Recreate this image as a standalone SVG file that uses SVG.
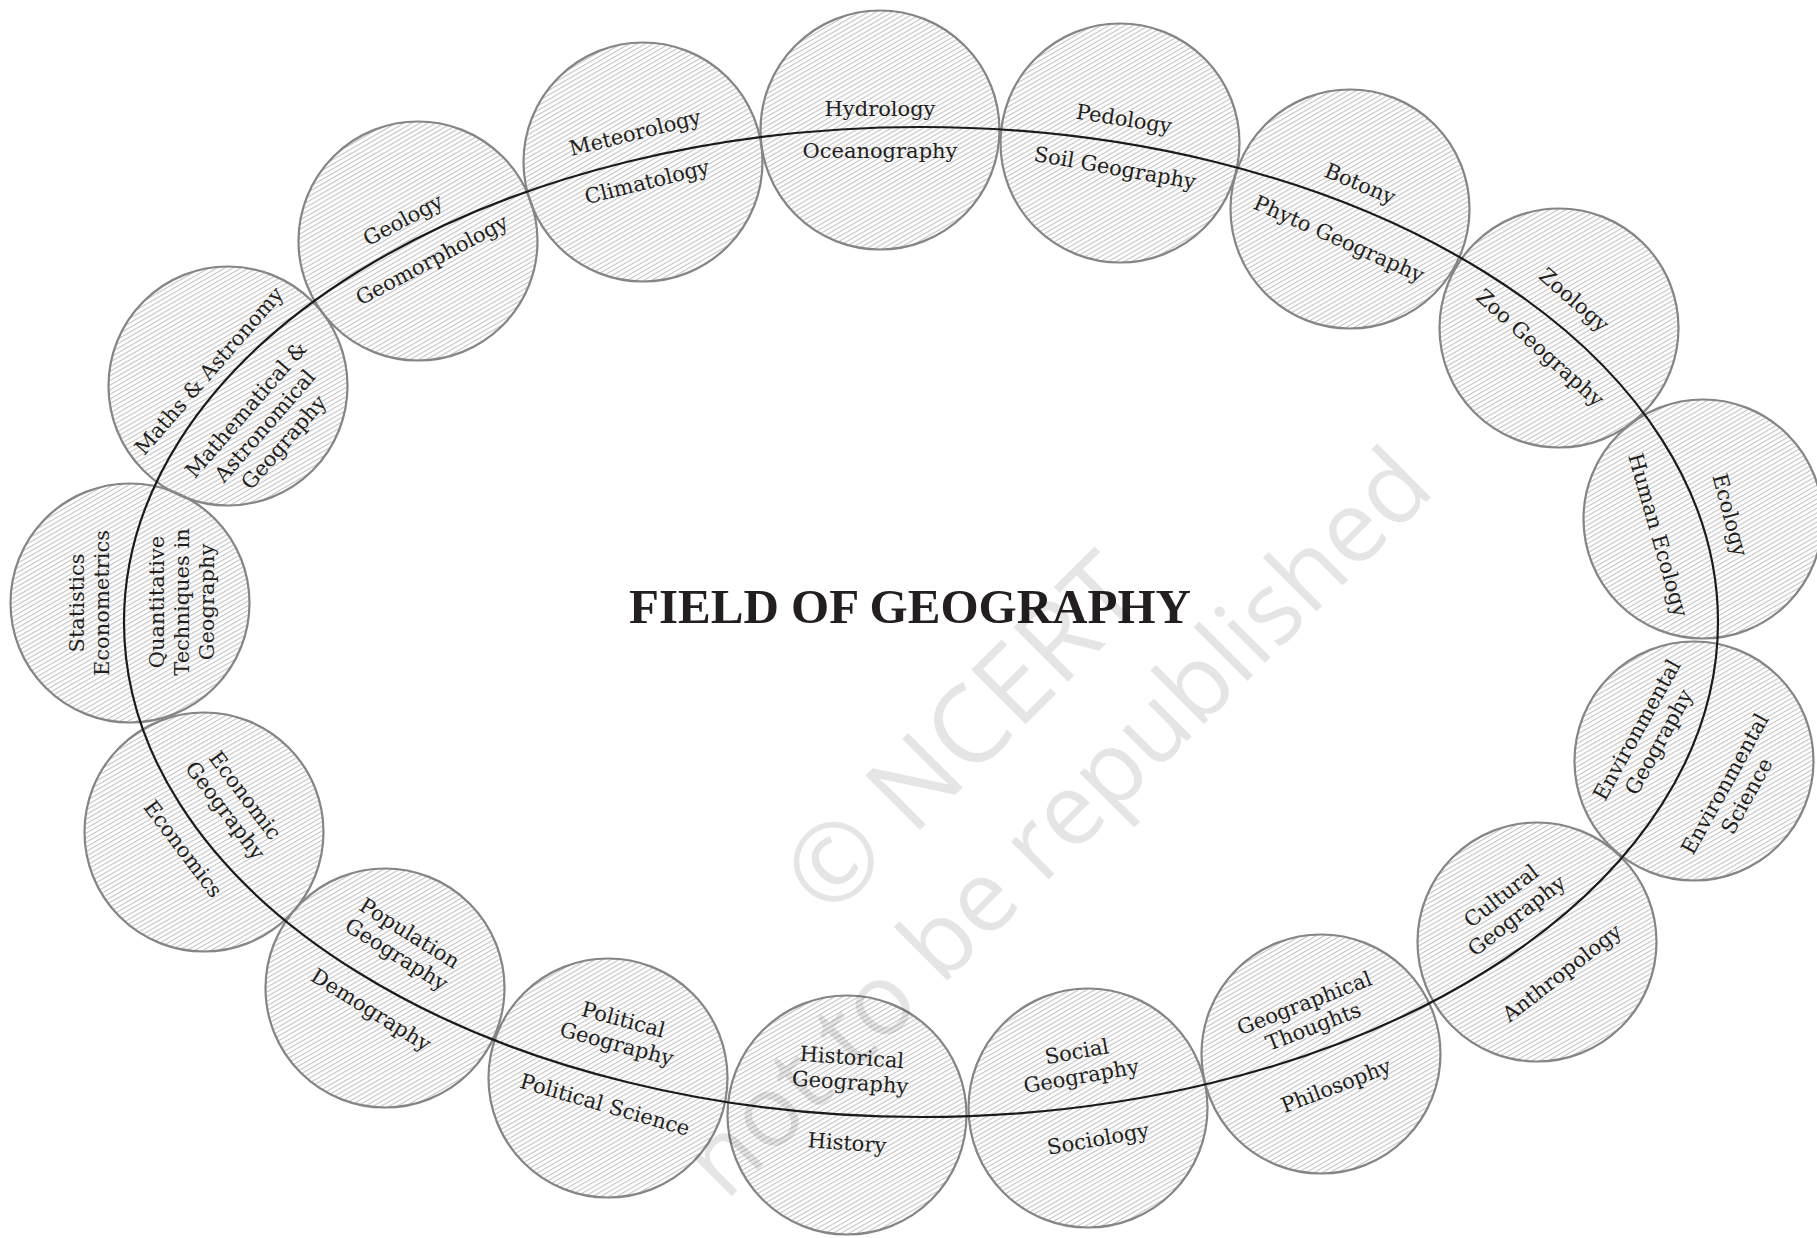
<svg xmlns="http://www.w3.org/2000/svg" width="1817" height="1238" viewBox="0 0 1817 1238">
<defs>
<pattern id="hatch" width="4" height="4" patternUnits="userSpaceOnUse" patternTransform="rotate(-30)">
<rect x="0" y="0" width="4" height="1.1" fill="#c4c4c4"/>
</pattern>
</defs>
<style>
.node circle { fill: url(#hatch); stroke: #858585; stroke-width: 2.2; }
.lbl { font-family: "DejaVu Serif", "Liberation Serif", serif; font-size: 21px; fill: #231f20; text-anchor: middle; }
.title { font-family: "Liberation Serif", serif; font-weight: bold; font-size: 49px; fill: #231f20; }
.wm { font-family: "Open Sans", "Noto Sans", sans-serif; font-size: 100px; fill: #000000; fill-opacity: 0.1; text-anchor: middle; }
.conn { fill: none; stroke: #1b1b1b; stroke-width: 2.2; }
</style>
<rect width="1817" height="1238" fill="#ffffff"/>

<g id="node-hydrology" class="node">
<circle cx="880" cy="130" r="119.5"/>
<text class="lbl" transform="translate(880 109)"><tspan x="0" y="7">Hydrology</tspan></text>
<text class="lbl" transform="translate(880 151)"><tspan x="0" y="7">Oceanography</tspan></text>
</g>
<g id="node-pedology" class="node">
<circle cx="1120" cy="143" r="119.5"/>
<text class="lbl" transform="translate(1124 119) rotate(9)"><tspan x="0" y="7">Pedology</tspan></text>
<text class="lbl" transform="translate(1115 168) rotate(10)"><tspan x="0" y="7">Soil Geography</tspan></text>
</g>
<g id="node-botony" class="node">
<circle cx="1350" cy="209" r="119.5"/>
<text class="lbl" transform="translate(1360 184) rotate(23)"><tspan x="0" y="7">Botony</tspan></text>
<text class="lbl" transform="translate(1339 239) rotate(24)"><tspan x="0" y="7">Phyto Geography</tspan></text>
</g>
<g id="node-zoology" class="node">
<circle cx="1559" cy="328" r="119.5"/>
<text class="lbl" transform="translate(1574 300) rotate(41)"><tspan x="0" y="7">Zoology</tspan></text>
<text class="lbl" transform="translate(1540 348) rotate(42)"><tspan x="0" y="7">Zoo Geography</tspan></text>
</g>
<g id="node-ecology" class="node">
<circle cx="1703" cy="519" r="119.5"/>
<text class="lbl" transform="translate(1730 515) rotate(75)"><tspan x="0" y="7">Ecology</tspan></text>
<text class="lbl" transform="translate(1658 535) rotate(74)"><tspan x="0" y="7">Human Ecology</tspan></text>
</g>
<g id="node-environmental" class="node">
<circle cx="1694" cy="761" r="119.5"/>
<text class="lbl" transform="translate(1648 736) rotate(-61)"><tspan x="0" y="-5.5">Environmental</tspan><tspan x="0" y="19.5">Geography</tspan></text>
<text class="lbl" transform="translate(1736 790) rotate(-61)"><tspan x="0" y="-5.5">Environmental</tspan><tspan x="0" y="19.5">Science</tspan></text>
</g>
<g id="node-cultural" class="node">
<circle cx="1537" cy="942" r="119.5"/>
<text class="lbl" transform="translate(1509 906) rotate(-38)"><tspan x="0" y="-5.5">Cultural</tspan><tspan x="0" y="19.5">Geography</tspan></text>
<text class="lbl" transform="translate(1562 973) rotate(-38)"><tspan x="0" y="7">Anthropology</tspan></text>
</g>
<g id="node-thoughts" class="node">
<circle cx="1321" cy="1054" r="119.5"/>
<text class="lbl" transform="translate(1309 1015) rotate(-21)"><tspan x="0" y="-5.5">Geographical</tspan><tspan x="0" y="19.5">Thoughts</tspan></text>
<text class="lbl" transform="translate(1336 1086) rotate(-21)"><tspan x="0" y="7">Philosophy</tspan></text>
</g>
<g id="node-social" class="node">
<circle cx="1088" cy="1108" r="119.5"/>
<text class="lbl" transform="translate(1079 1064) rotate(-10)"><tspan x="0" y="-5.5">Social</tspan><tspan x="0" y="19.5">Geography</tspan></text>
<text class="lbl" transform="translate(1098 1139) rotate(-10)"><tspan x="0" y="7">Sociology</tspan></text>
</g>
<g id="node-historical" class="node">
<circle cx="847" cy="1115" r="119.5"/>
<text class="lbl" transform="translate(851 1070) rotate(4)"><tspan x="0" y="-5.5">Historical</tspan><tspan x="0" y="19.5">Geography</tspan></text>
<text class="lbl" transform="translate(847 1143) rotate(4)"><tspan x="0" y="7">History</tspan></text>
</g>
<g id="node-political" class="node">
<circle cx="608" cy="1078" r="119.5"/>
<text class="lbl" transform="translate(620 1032) rotate(15)"><tspan x="0" y="-5.5">Political</tspan><tspan x="0" y="19.5">Geography</tspan></text>
<text class="lbl" transform="translate(605 1105) rotate(16)"><tspan x="0" y="7">Political Science</tspan></text>
</g>
<g id="node-population" class="node">
<circle cx="385" cy="988" r="119.5"/>
<text class="lbl" transform="translate(403 944) rotate(32)"><tspan x="0" y="-5.5">Population</tspan><tspan x="0" y="19.5">Geography</tspan></text>
<text class="lbl" transform="translate(371 1010) rotate(32)"><tspan x="0" y="7">Demography</tspan></text>
</g>
<g id="node-economic" class="node">
<circle cx="204" cy="832" r="119.5"/>
<text class="lbl" transform="translate(235 803) rotate(53)"><tspan x="0" y="-5.5">Economic</tspan><tspan x="0" y="19.5">Geography</tspan></text>
<text class="lbl" transform="translate(183 849) rotate(53)"><tspan x="0" y="7">Economics</tspan></text>
</g>
<g id="node-statistics" class="node">
<circle cx="130" cy="603" r="119.5"/>
<text class="lbl" transform="translate(89 603) rotate(-90)"><tspan x="0" y="-5.5">Statistics</tspan><tspan x="0" y="19.5">Econometrics</tspan></text>
<text class="lbl" transform="translate(182 602) rotate(-90)"><tspan x="0" y="-18">Quantitative</tspan><tspan x="0" y="7">Techniques in</tspan><tspan x="0" y="32">Geography</tspan></text>
</g>
<g id="node-maths" class="node">
<circle cx="228" cy="386" r="119.5"/>
<text class="lbl" transform="translate(209 371) rotate(-49)"><tspan x="0" y="7">Maths &amp; Astronomy</tspan></text>
<text class="lbl" transform="translate(265 426) rotate(-49)"><tspan x="0" y="-18">Mathematical &amp;</tspan><tspan x="0" y="7">Astronomical</tspan><tspan x="0" y="32">Geography</tspan></text>
</g>
<g id="node-geology" class="node">
<circle cx="418" cy="241" r="119.5"/>
<text class="lbl" transform="translate(403 220) rotate(-28)"><tspan x="0" y="7">Geology</tspan></text>
<text class="lbl" transform="translate(432 260) rotate(-28)"><tspan x="0" y="7">Geomorphology</tspan></text>
</g>
<g id="node-meteorology" class="node">
<circle cx="643" cy="162" r="119.5"/>
<text class="lbl" transform="translate(635 133) rotate(-14)"><tspan x="0" y="7">Meteorology</tspan></text>
<text class="lbl" transform="translate(647 182) rotate(-14)"><tspan x="0" y="7">Climatology</tspan></text>
</g>

<g id="connectors">
<ellipse class="conn" cx="921" cy="622" rx="797" ry="495"/>
</g>

<g id="title">
<text class="title" x="629" y="623" textLength="562" lengthAdjust="spacingAndGlyphs">FIELD OF GEOGRAPHY</text>
</g>

<g id="watermark" transform="translate(964 735) rotate(-45)">
<text class="wm" x="0" y="36" style="font-size:108px">© NCERT</text>
<text class="wm" x="4" y="162">not to be republished</text>
</g>
</svg>
